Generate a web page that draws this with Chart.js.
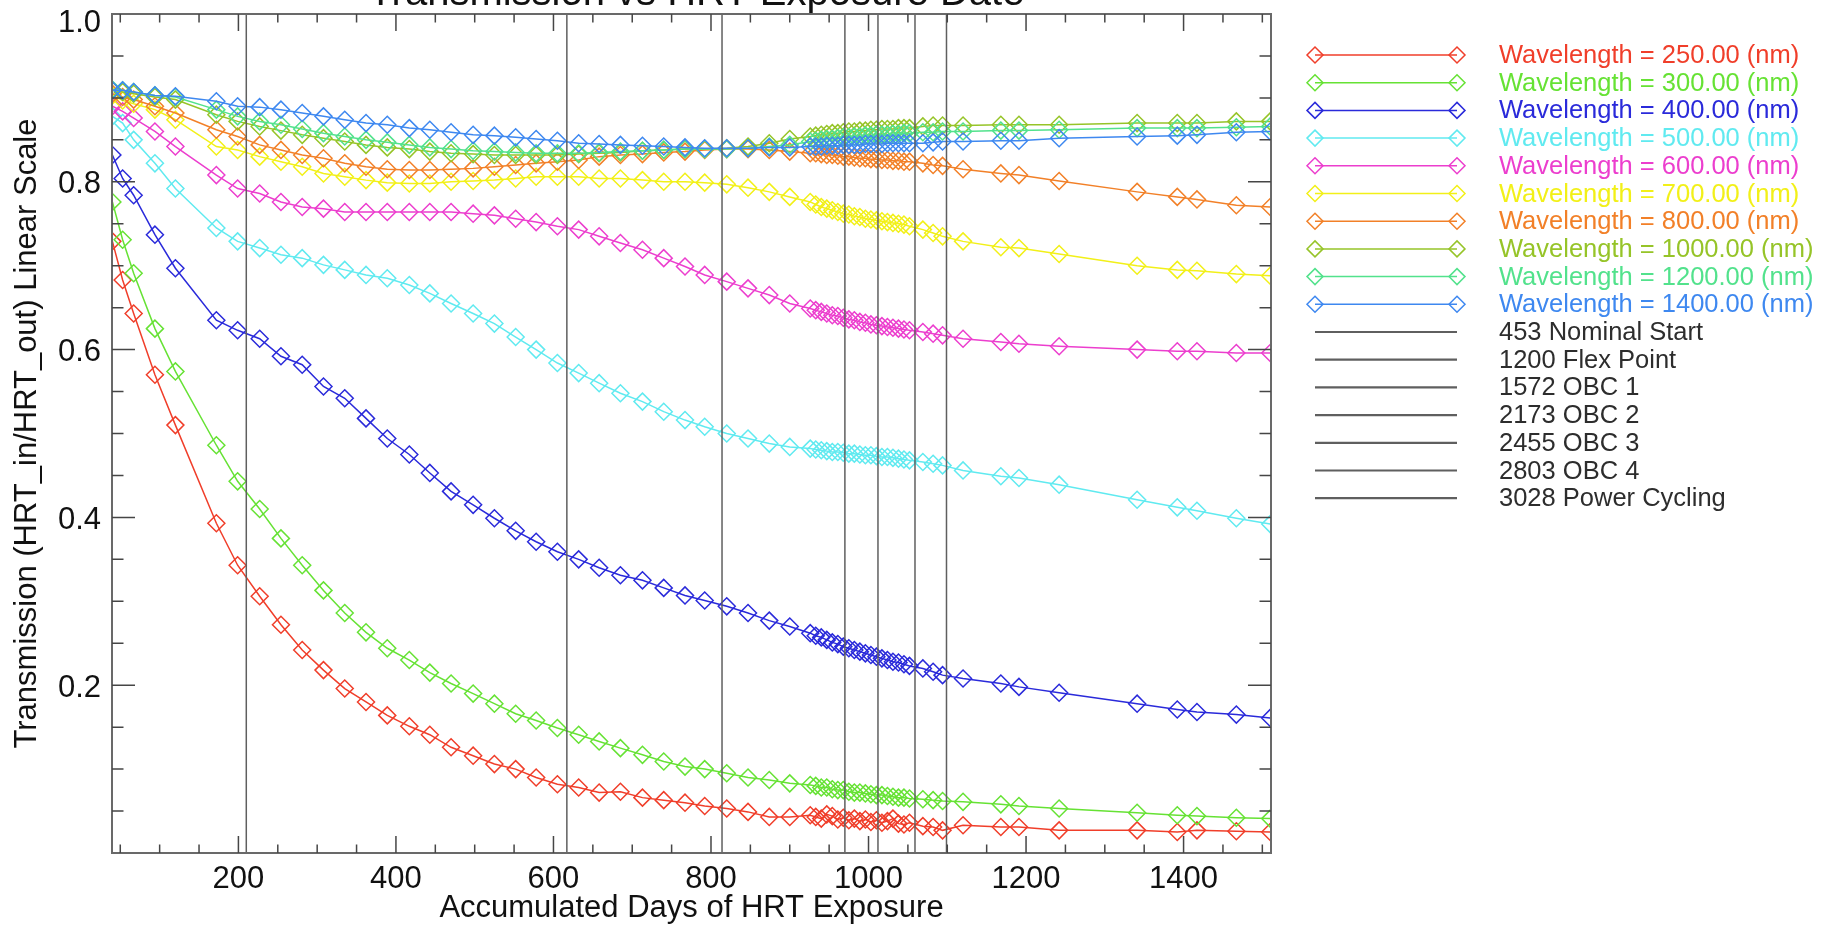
<!DOCTYPE html>
<html><head><meta charset="utf-8">
<script src="https://cdn.jsdelivr.net/npm/chart.js@4/dist/chart.umd.min.js"></script>
<style>html,body{margin:0;padding:0;background:#fff;overflow:hidden}canvas{display:block}</style>
</head><body>
<canvas id="c" width="1823" height="933"></canvas>
<script>
// ---------- data ----------
const days = [40,53,67,94,120,172,199,227,254,281,308,335,362,389,417,443,470,498,525,552,578,605,632,658,685,713,740,767,
  792,820,847,874,900,
  926,933,940,947,954,961,968,975,982,989,996,1003,1010,1017,1024,1031,1038,1045,1052,
  1069,1082,1094,1120,1168,1191,1242,1341,1392,1417,1467,1510];

const wavelengths = ['250.00','300.00','400.00','500.00','600.00','700.00','800.00','1000.00','1200.00','1400.00'];

const t250 = [0.729,0.683,0.643,0.570,0.510,0.393,0.343,0.306,0.272,0.242,0.218,0.196,0.180,0.164,0.151,0.141,0.126,0.116,0.106,0.100,0.090,0.082,0.078,0.072,0.073,0.066,0.063,0.060,
  0.056,0.053,0.049,0.043,0.043,
  0.045,0.043,0.041,0.046,0.044,0.040,0.042,0.039,0.041,0.038,0.040,0.037,0.039,0.036,0.038,0.041,0.035,0.034,0.036,
  0.032,0.031,0.027,0.033,0.031,0.031,0.027,0.027,0.025,0.027,0.026,0.025];
const t300 = [0.776,0.731,0.691,0.625,0.574,0.486,0.443,0.410,0.375,0.343,0.313,0.286,0.263,0.244,0.230,0.215,0.202,0.190,0.178,0.166,0.158,0.149,0.141,0.133,0.125,0.117,0.109,0.103,
  0.100,0.095,0.090,0.087,0.083,
  0.081,0.080,0.078,0.078,0.076,0.075,0.075,0.073,0.072,0.072,0.071,0.070,0.069,0.069,0.068,0.067,0.066,0.066,0.065,
  0.064,0.063,0.062,0.061,0.058,0.056,0.053,0.048,0.045,0.044,0.042,0.041];
const t400 = [0.832,0.804,0.784,0.737,0.697,0.635,0.623,0.613,0.592,0.582,0.556,0.542,0.518,0.494,0.475,0.453,0.431,0.415,0.399,0.384,0.371,0.359,0.350,0.340,0.331,0.325,0.316,0.307,
  0.301,0.294,0.286,0.277,0.270,
  0.262,0.259,0.257,0.254,0.251,0.249,0.246,0.244,0.242,0.240,0.238,0.236,0.234,0.232,0.230,0.228,0.227,0.225,0.223,
  0.220,0.216,0.212,0.208,0.202,0.198,0.191,0.178,0.171,0.168,0.165,0.161];
const t500 = [0.878,0.870,0.850,0.822,0.792,0.745,0.729,0.721,0.713,0.709,0.701,0.695,0.689,0.685,0.677,0.667,0.655,0.643,0.631,0.615,0.600,0.584,0.572,0.560,0.548,0.538,0.526,0.516,
  0.508,0.500,0.494,0.488,0.484,
  0.482,0.481,0.480,0.479,0.478,0.478,0.477,0.476,0.476,0.475,0.474,0.474,0.473,0.472,0.472,0.471,0.470,0.469,0.468,
  0.466,0.464,0.462,0.456,0.449,0.447,0.439,0.421,0.412,0.408,0.399,0.392];
const t600 = [0.890,0.884,0.876,0.860,0.842,0.808,0.792,0.786,0.776,0.770,0.768,0.764,0.764,0.764,0.764,0.764,0.764,0.762,0.760,0.756,0.752,0.747,0.743,0.735,0.727,0.719,0.709,0.699,
  0.689,0.681,0.673,0.665,0.655,
  0.649,0.647,0.645,0.643,0.641,0.640,0.638,0.636,0.635,0.633,0.632,0.630,0.629,0.628,0.627,0.626,0.625,0.624,0.623,
  0.621,0.619,0.617,0.613,0.609,0.607,0.604,0.600,0.598,0.598,0.596,0.596];
const t700 = [0.903,0.897,0.893,0.886,0.874,0.842,0.838,0.830,0.824,0.818,0.810,0.806,0.802,0.799,0.798,0.798,0.800,0.801,0.802,0.804,0.806,0.806,0.806,0.804,0.804,0.802,0.800,0.800,
  0.799,0.797,0.793,0.788,0.782,
  0.776,0.773,0.770,0.768,0.766,0.764,0.762,0.761,0.759,0.758,0.756,0.755,0.754,0.753,0.752,0.751,0.750,0.749,0.747,
  0.743,0.739,0.735,0.729,0.722,0.721,0.714,0.700,0.695,0.694,0.690,0.688];
const t800 = [0.905,0.901,0.898,0.890,0.882,0.862,0.854,0.844,0.838,0.832,0.828,0.822,0.818,0.815,0.814,0.814,0.815,0.816,0.818,0.820,0.822,0.824,0.826,0.830,0.832,0.833,0.835,0.836,
  0.838,0.839,0.839,0.838,0.836,
  0.834,0.834,0.833,0.832,0.832,0.831,0.830,0.830,0.829,0.828,0.828,0.827,0.827,0.826,0.826,0.825,0.825,0.824,0.824,
  0.822,0.820,0.819,0.815,0.810,0.808,0.801,0.788,0.782,0.779,0.772,0.770];
const t1000 = [0.909,0.907,0.905,0.901,0.898,0.880,0.872,0.866,0.861,0.856,0.852,0.848,0.844,0.841,0.839,0.836,0.834,0.833,0.832,0.832,0.832,0.832,0.833,0.834,0.835,0.837,0.838,0.839,
  0.839,0.840,0.842,0.846,0.851,
  0.854,0.855,0.856,0.857,0.858,0.858,0.859,0.860,0.860,0.861,0.861,0.862,0.862,0.863,0.863,0.863,0.864,0.864,0.864,
  0.866,0.867,0.867,0.867,0.868,0.868,0.868,0.870,0.870,0.870,0.872,0.872];
const t1200 = [0.910,0.909,0.907,0.903,0.901,0.886,0.878,0.872,0.868,0.863,0.858,0.854,0.850,0.847,0.844,0.841,0.839,0.837,0.836,0.835,0.834,0.834,0.834,0.835,0.836,0.837,0.838,0.839,
  0.839,0.839,0.840,0.842,0.844,
  0.848,0.849,0.850,0.851,0.851,0.852,0.853,0.853,0.854,0.854,0.855,0.855,0.856,0.856,0.856,0.857,0.857,0.858,0.858,
  0.859,0.859,0.860,0.860,0.861,0.861,0.862,0.864,0.864,0.864,0.865,0.866];
const t1400 = [0.909,0.909,0.907,0.903,0.902,0.896,0.890,0.889,0.886,0.882,0.878,0.874,0.870,0.868,0.864,0.862,0.859,0.856,0.855,0.853,0.851,0.849,0.846,0.845,0.844,0.843,0.842,0.841,
  0.840,0.840,0.840,0.841,0.841,
  0.842,0.842,0.842,0.843,0.843,0.843,0.844,0.844,0.844,0.844,0.845,0.845,0.845,0.845,0.846,0.846,0.846,0.846,0.846,
  0.846,0.847,0.848,0.848,0.849,0.849,0.852,0.854,0.855,0.856,0.859,0.860];

const seriesValues = [t250,t300,t400,t500,t600,t700,t800,t1000,t1200,t1400];
const seriesColors = ['rgb(240,62,42)','rgb(102,226,52)','rgb(42,42,218)','rgb(96,234,240)','rgb(236,62,206)',
  'rgb(242,240,24)','rgb(242,128,40)','rgb(150,196,40)','rgb(82,226,140)','rgb(62,136,240)'];

const eventDays = [210,617,814,970,1012,1059,1099];
const eventLabels = ['453 Nominal Start','1200 Flex Point','1572 OBC 1','2173 OBC 2','2455 OBC 3','2803 OBC 4','3028 Power Cycling'];

const xTickLabels = [200,400,600,800,1000,1200,1400];
const yTickLabels = [0.2,0.4,0.6,0.8,1.0];
const titleText = 'Transmission vs HRT Exposure Date';
const xTitle = 'Accumulated Days of HRT Exposure';
const yTitle = 'Transmission (HRT_in/HRT_out) Linear Scale';

// ---------- datasets ----------
const datasets = seriesValues.map((vals, i) => ({
  label: 'Wavelength = ' + wavelengths[i] + ' (nm)',
  data: days.map((d, j) => ({x: d, y: vals[j]})),
  borderColor: seriesColors[i],
  borderWidth: 1.5,
  pointStyle: 'rectRot',
  pointRadius: 8.5,
  pointBorderWidth: 1.5,
  pointBorderColor: seriesColors[i],
  pointBackgroundColor: 'rgba(0,0,0,0)',
  fill: false,
  tension: 0,
  order: -i
}));
eventDays.forEach((d, i) => datasets.push({
  label: eventLabels[i],
  data: [{x: d, y: 0}, {x: d, y: 1}],
  borderColor: 'rgb(95,95,95)',
  borderWidth: 1.5,
  pointRadius: 0,
  fill: false,
  order: -100,
  isEvent: true
}));

const FONT = '"Liberation Sans", Arial, Helvetica, sans-serif';

function diamond(ctx, x, y, r) {
  ctx.beginPath();
  ctx.moveTo(x, y - r); ctx.lineTo(x + r, y); ctx.lineTo(x, y + r); ctx.lineTo(x - r, y); ctx.closePath();
  ctx.stroke();
}

const decor = {
  id: 'decor',
  afterDraw(chart) {
    const ctx = chart.ctx, a = chart.chartArea, xs = chart.scales.x, ys = chart.scales.y;
    ctx.save();
    // frame
    ctx.strokeStyle = 'rgb(105,105,105)';
    ctx.lineWidth = 2;
    ctx.strokeRect(a.left, a.top, a.right - a.left, a.bottom - a.top);
    // ticks
    ctx.lineWidth = 1.5;
    ctx.strokeStyle = 'rgb(70,70,70)';
    ctx.beginPath();
    for (let k = 1; k <= 30; k++) {
      const v = k * 50;
      const px = xs.getPixelForValue(v);
      if (px <= a.left || px >= a.right) continue;
      const L = (v % 200 === 0) ? 17 : 8.5;
      ctx.moveTo(px, a.bottom); ctx.lineTo(px, a.bottom - L);
      ctx.moveTo(px, a.top); ctx.lineTo(px, a.top + L);
    }
    for (let k = 1; k < 20; k++) {
      const v = k * 0.05;
      const py = ys.getPixelForValue(v);
      const L = (k % 4 === 0) ? 23 : 11.5;
      ctx.moveTo(a.left, py); ctx.lineTo(a.left + L, py);
      ctx.moveTo(a.right, py); ctx.lineTo(a.right - L, py);
    }
    ctx.stroke();
    // tick labels
    ctx.fillStyle = '#111';
    ctx.font = '31px ' + FONT;
    ctx.textAlign = 'center';
    ctx.textBaseline = 'alphabetic';
    xTickLabels.forEach(v => ctx.fillText(String(v), xs.getPixelForValue(v), 888));
    ctx.textAlign = 'right';
    ctx.textBaseline = 'middle';
    yTickLabels.forEach(v => {
      let py = ys.getPixelForValue(v) + 3;
      if (v === 1.0) py += 6;
      ctx.fillText(v.toFixed(1), 101, py);
    });
    // axis titles
    ctx.font = '31px ' + FONT;
    ctx.textAlign = 'center';
    ctx.textBaseline = 'alphabetic';
    ctx.fillText(xTitle, (a.left + a.right) / 2, 917);
    ctx.save();
    ctx.translate(36, (a.top + a.bottom) / 2);
    ctx.rotate(-Math.PI / 2);
    ctx.fillText(yTitle, 0, 0);
    ctx.restore();
    // title (cut at the top edge)
    ctx.font = '40px ' + FONT;
    ctx.fillText(titleText, (a.left + a.right) / 2 + 5, 5);
    // legend
    const lx0 = 1315, lx1 = 1457, tx = 1499, y0 = 55, dy = 27.7;
    ctx.textAlign = 'left';
    ctx.textBaseline = 'middle';
    ctx.font = '25.5px ' + FONT;
    chart.data.datasets.forEach((ds, i) => {
      const y = y0 + dy * i;
      ctx.strokeStyle = ds.borderColor;
      if (ds.isEvent) {
        ctx.lineWidth = 2.2;
        ctx.beginPath(); ctx.moveTo(lx0, y); ctx.lineTo(lx1, y); ctx.stroke();
        ctx.fillStyle = 'rgb(45,45,45)';
      } else {
        ctx.lineWidth = 1.5;
        ctx.beginPath(); ctx.moveTo(lx0, y); ctx.lineTo(lx1, y); ctx.stroke();
        diamond(ctx, lx0, y, 8);
        diamond(ctx, lx1, y, 8);
        ctx.fillStyle = ds.borderColor;
      }
      ctx.fillText(ds.label, tx, y + 1);
    });
    ctx.restore();
  }
};

new Chart(document.getElementById('c'), {
  type: 'line',
  data: {datasets},
  options: {
    responsive: false,
    animation: false,
    devicePixelRatio: 1,
    layout: {padding: {left: 112, right: 552, top: 14, bottom: 80}},
    scales: {
      x: {type: 'linear', min: 39.5, max: 1511, display: false},
      y: {type: 'linear', min: 0, max: 1, display: false}
    },
    plugins: {legend: {display: false}, tooltip: {enabled: false}, title: {display: false}},
    events: []
  },
  plugins: [decor]
});
</script>
</body></html>
